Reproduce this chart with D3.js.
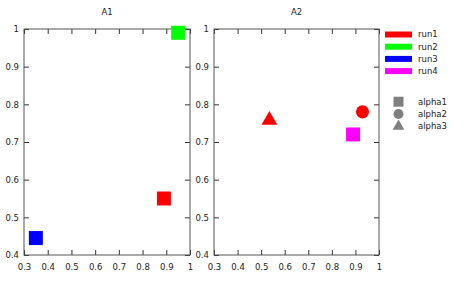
<!DOCTYPE html>
<html>
<head>
<meta charset="utf-8">
<script src="https://cdn.jsdelivr.net/npm/d3@7"></script>
<style>
  body { margin: 0; background: #fff; }
  svg text { font-family: "DejaVu Sans", Verdana, sans-serif; font-size: 8.5px; fill: #222; }
</style>
</head>
<body>
<svg id="chart" width="474" height="284"></svg>
<script>
// Data
var runs = ["run1", "run2", "run3", "run4"];
var runColors = ["#ff0000", "#00ff00", "#0000ff", "#ff00ff"];
var alphas = ["alpha1", "alpha2", "alpha3"];
var xTicks = [0.3, 0.4, 0.5, 0.6, 0.7, 0.8, 0.9, 1];
var yTicks = [0.4, 0.5, 0.6, 0.7, 0.8, 0.9, 1];

// panel A1
var a1X = [0.89, 0.95, 0.35];
var a1Y = [0.55, 0.99, 0.445];
var a1Run = ["run1", "run2", "run3"];
var a1Alpha = ["alpha1", "alpha1", "alpha1"];

// panel A2
var a2X = [0.93, 0.535, 0.89];
var a2Y = [0.78, 0.758, 0.72];
var a2Run = ["run1", "run1", "run4"];
var a2Alpha = ["alpha2", "alpha3", "alpha1"];

var panels = [
  { title: "A1", left: 24, right: 190, xs: a1X, ys: a1Y, run: a1Run, alpha: a1Alpha },
  { title: "A2", left: 214, right: 379, xs: a2X, ys: a2Y, run: a2Run, alpha: a2Alpha }
];

var plotTop = 29, plotBottom = 255;
var svg = d3.select("#chart");

var color = d3.scaleOrdinal().domain(runs).range(runColors);
var shape = d3.scaleOrdinal().domain(alphas).range([d3.symbolSquare, d3.symbolCircle, d3.symbolTriangle]);
var bigSize = { alpha1: 196, alpha2: 135, alpha3: 110 };
var smallSize = { alpha1: 100, alpha2: 80, alpha3: 60 };

panels.forEach(function (p) {
  var x = d3.scaleLinear().domain([0.3, 1]).range([p.left, p.right]);
  var y = d3.scaleLinear().domain([0.4, 1]).range([plotBottom, plotTop]);
  var g = svg.append("g");

  // bottom / top / left / right axes, ticks pointing inward
  var axB = g.append("g").attr("transform", "translate(0," + plotBottom + ")")
    .call(d3.axisBottom(x).tickValues(xTicks).tickSizeInner(-5).tickSizeOuter(0).tickPadding(9)
      .tickFormat(d3.format("")));
  var axT = g.append("g").attr("transform", "translate(0," + plotTop + ")")
    .call(d3.axisTop(x).tickValues(xTicks).tickSizeInner(-5).tickSizeOuter(0).tickFormat(""));
  var axL = g.append("g").attr("transform", "translate(" + p.left + ",0)")
    .call(d3.axisLeft(y).tickValues(yTicks).tickSizeInner(-5).tickSizeOuter(0).tickPadding(5)
      .tickFormat(d3.format("")));
  var axR = g.append("g").attr("transform", "translate(" + p.right + ",0)")
    .call(d3.axisRight(y).tickValues(yTicks).tickSizeInner(-5).tickSizeOuter(0).tickFormat(""));

  [axB, axT, axL, axR].forEach(function (a) {
    a.select(".domain").remove();
    a.selectAll("line").attr("stroke", "#333");
    a.selectAll("text").style("fill", "#222").attr("font-family", null).attr("font-size", null);
  });

  g.append("rect")
    .attr("x", p.left).attr("y", plotTop)
    .attr("width", p.right - p.left).attr("height", plotBottom - plotTop)
    .attr("fill", "none").attr("stroke", "#555").attr("stroke-width", 1);

  g.append("text")
    .attr("x", (p.left + p.right) / 2).attr("y", 15)
    .attr("text-anchor", "middle")
    .text(p.title);

  g.selectAll(".pt")
    .data(p.xs.map(function (v, i) { return { x: v, y: p.ys[i], run: p.run[i], alpha: p.alpha[i] }; }))
    .enter().append("path")
    .attr("transform", function (d) { return "translate(" + x(d.x) + "," + y(d.y) + ")"; })
    .attr("d", function (d) { return d3.symbol().type(shape(d.alpha)).size(bigSize[d.alpha])(); })
    .attr("fill", function (d) { return color(d.run); });
});

// legend: runs
var leg = svg.append("g");
runs.forEach(function (r, i) {
  var yy = 34.5 + i * 12.2;
  leg.append("line")
    .attr("x1", 385).attr("x2", 412).attr("y1", yy).attr("y2", yy)
    .attr("stroke", color(r)).attr("stroke-width", 6);
  leg.append("text").attr("x", 418).attr("y", yy).attr("dy", "0.35em").text(r);
});

// legend: alphas
alphas.forEach(function (a, i) {
  var yy = 101.7 + i * 12.3;
  leg.append("path")
    .attr("transform", "translate(398.5," + yy + ")")
    .attr("d", d3.symbol().type(shape(a)).size(smallSize[a])())
    .attr("fill", "#808080");
  leg.append("text").attr("x", 418).attr("y", yy).attr("dy", "0.35em").text(a);
});
</script>
</body>
</html>
